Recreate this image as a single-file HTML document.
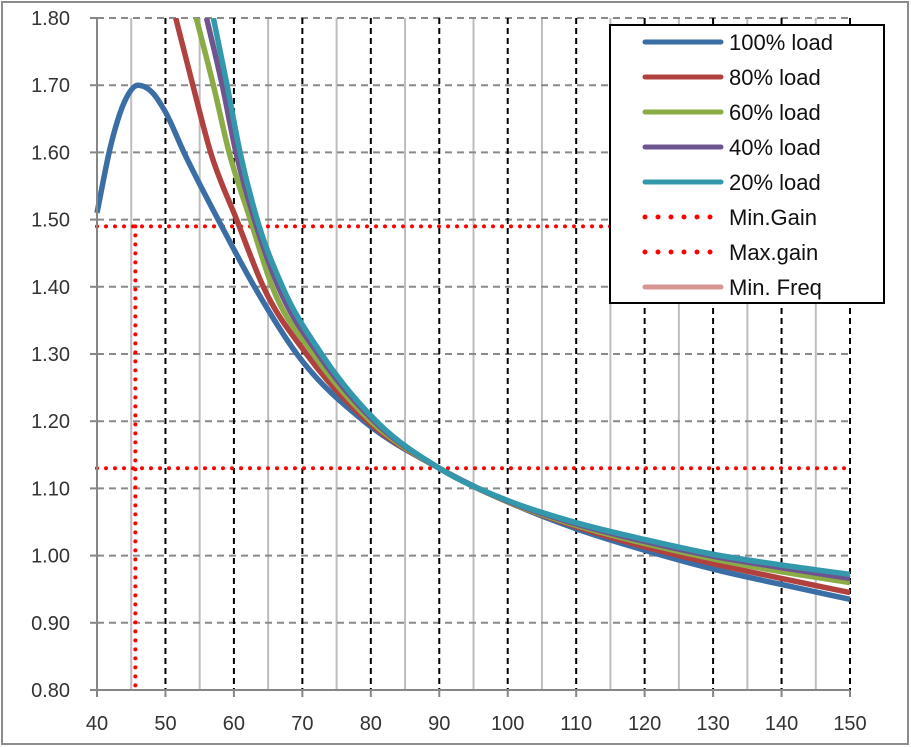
<!DOCTYPE html>
<html><head><meta charset="utf-8"><style>
html,body{margin:0;padding:0;background:#fff;}
svg{display:block;font-family:"Liberation Sans",sans-serif;}
</style></head><body>
<svg id="chart" width="911" height="747">
<rect x="2" y="2" width="906" height="742" fill="#fff" stroke="#8c8c8c" stroke-width="2"/>
<defs><clipPath id="pc"><rect x="0" y="18" width="911" height="672"/></clipPath></defs>
<g id="grid"></g>
<g id="series"></g>
<g id="axes"></g>
<g id="legend"></g>
</svg>
<script>
const xTicks=[40,50,60,70,80,90,100,110,120,130,140,150];
const yTicks=[0.80,0.90,1.00,1.10,1.20,1.30,1.40,1.50,1.60,1.70,1.80];
const xs100=[40,42,44,46,48,50,52.7,57.7,63,69.2,79,90,100,110,120,130,140,150];
const ys100=[1.51,1.61,1.675,1.70,1.69,1.66,1.60,1.50,1.40,1.30,1.20,1.13,1.08,1.04,1.008,0.98,0.957,0.935];
const xs80=[51.5,54,56.6,60.4,64.3,70.6,79.5,90,100,110,120,130,140,150];
const ys80=[1.80,1.70,1.60,1.50,1.40,1.30,1.20,1.13,1.08,1.043,1.013,0.988,0.966,0.945];
const xs60=[54.5,57,59.3,62.4,65.6,71.6,80,90,100,110,120,130,140,150];
const ys60=[1.80,1.70,1.60,1.50,1.40,1.30,1.20,1.13,1.08,1.045,1.018,0.995,0.976,0.96];
const xs40=[56,58.3,60.3,63,66.5,72.3,80.5,90,100,110,120,130,140,150];
const ys40=[1.80,1.70,1.60,1.50,1.40,1.30,1.20,1.13,1.081,1.047,1.021,0.999,0.982,0.966];
const xs20=[57,59,60.9,63.4,67.1,72.8,80.8,90,100,110,120,130,140,150];
const ys20=[1.80,1.70,1.60,1.50,1.40,1.30,1.20,1.13,1.082,1.049,1.024,1.002,0.986,0.972];
const minGain=1.13, maxGain=1.49, minFreq=45.6;
const labels=["100% load","80% load","60% load","40% load","20% load","Min.Gain","Max.gain","Min. Freq"];
const colors=["#3a6ea5","#b0413e","#8aab46","#6e558f","#3498ac","#ff0000","#ff0000","#d99594"];

const NS="http://www.w3.org/2000/svg";
const X=v=>97+(v-40)*(753/110);
const Y=v=>690-(v-0.8)*672;
function mk(tag,attrs,parent){const e=document.createElementNS(NS,tag);for(const k in attrs)e.setAttribute(k,attrs[k]);parent.appendChild(e);return e;}
const grid=document.getElementById('grid'),axes=document.getElementById('axes'),ser=document.getElementById('series'),leg=document.getElementById('legend');

for(let v=45;v<150;v+=10){const l=mk('line',{x1:X(v),x2:X(v),y1:Y(1.8),y2:Y(0.8),stroke:'#bdbdbd','stroke-width':2},grid);
}
yTicks.forEach(v=>{if(v<0.85)return;const l=mk('line',{x1:X(40),x2:X(150),y1:Y(v),y2:Y(v),stroke:'#8a8a8a','stroke-width':2,'stroke-dasharray':'7,5'},grid);
});
xTicks.forEach(v=>{if(v===40)return;const l=mk('line',{x1:X(v),x2:X(v),y1:Y(1.8),y2:Y(0.8),stroke:'#000','stroke-width':2,'stroke-dasharray':'6,4'},grid);
});

let r=mk('line',{x1:X(40),x2:X(150),y1:Y(minGain),y2:Y(minGain),stroke:'#ff0000','stroke-width':4,'stroke-dasharray':'0,9','stroke-linecap':'round'},ser);

r=mk('line',{x1:X(40),x2:X(150),y1:Y(maxGain),y2:Y(maxGain),stroke:'#ff0000','stroke-width':4,'stroke-dasharray':'0,9','stroke-linecap':'round'},ser);

r=mk('line',{x1:X(minFreq),x2:X(minFreq),y1:Y(maxGain),y2:Y(0.8),stroke:'#ff0000','stroke-width':4,'stroke-dasharray':'0,9','stroke-linecap':'round'},ser);


function monoPath(xa,ya){
  const n=xa.length,d=[],m=[];
  for(let i=0;i<n-1;i++)d.push((ya[i+1]-ya[i])/(xa[i+1]-xa[i]));
  m[0]=d[0];m[n-1]=d[n-2];
  for(let i=1;i<n-1;i++){if(d[i-1]*d[i]<=0){m[i]=0;}else{const h0=xa[i]-xa[i-1],h1=xa[i+1]-xa[i];m[i]=(h0*d[i]+h1*d[i-1])/(h0+h1);}}
  for(let i=0;i<n-1;i++){if(d[i]===0){m[i]=0;m[i+1]=0;continue;}
    const a=m[i]/d[i],b=m[i+1]/d[i],s=a*a+b*b;if(s>9){const t=3/Math.sqrt(s);m[i]=t*a*d[i];m[i+1]=t*b*d[i];}}
  let p=`M${X(xa[0])},${Y(ya[0])}`;
  for(let i=0;i<n-1;i++){const h=xa[i+1]-xa[i];
    p+=` C${X(xa[i]+h/3)},${Y(ya[i]+m[i]*h/3)} ${X(xa[i+1]-h/3)},${Y(ya[i+1]-m[i+1]*h/3)} ${X(xa[i+1])},${Y(ya[i+1])}`;}
  return p;}
const data=[[xs100,ys100],[xs80,ys80],[xs60,ys60],[xs40,ys40],[xs20,ys20]];
const names=['series-100-load','series-80-load','series-60-load','series-40-load','series-20-load'];
data.forEach((s,i)=>{const p=mk('path',{d:monoPath(s[0],s[1]),fill:'none',stroke:colors[i],'stroke-width':5.5,'clip-path':'url(#pc)'},ser);
});

mk('line',{x1:X(40),x2:X(40),y1:Y(1.8),y2:Y(0.8)+1,stroke:'#868686','stroke-width':2},axes);
mk('line',{x1:X(40)-7,x2:X(150),y1:Y(0.8),y2:Y(0.8),stroke:'#868686','stroke-width':2},axes);
yTicks.forEach(v=>{mk('line',{x1:X(40)-7,x2:X(40),y1:Y(v),y2:Y(v),stroke:'#868686','stroke-width':2},axes);
const t=mk('text',{x:70,y:Y(v)+7,'text-anchor':'end','font-size':20,fill:'#333'},axes);t.textContent=v.toFixed(2);
});
xTicks.forEach(v=>{mk('line',{x1:X(v),x2:X(v),y1:Y(0.8),y2:Y(0.8)+7,stroke:'#868686','stroke-width':2},axes);
const t=mk('text',{x:X(v),y:730,'text-anchor':'middle','font-size':20,fill:'#333'},axes);t.textContent=v;
});

const lb=mk('rect',{x:610,y:25,width:274,height:278,fill:'#fff',stroke:'#000','stroke-width':2},leg);

labels.forEach((s,i)=>{const g=mk('g',{},leg);
const y=42+i*35;const dotted=(i===5||i===6);
mk('line',dotted?{x1:645,x2:718,y1:y,y2:y,stroke:colors[i],'stroke-width':5,'stroke-dasharray':'0,13','stroke-linecap':'round'}:{x1:645,x2:721,y1:y,y2:y,stroke:colors[i],'stroke-width':5,'stroke-linecap':'round'},g);
const t=mk('text',{x:729,y:y+8,'font-size':22,fill:'#111'},g);t.textContent=s;});
</script>
</body></html>
